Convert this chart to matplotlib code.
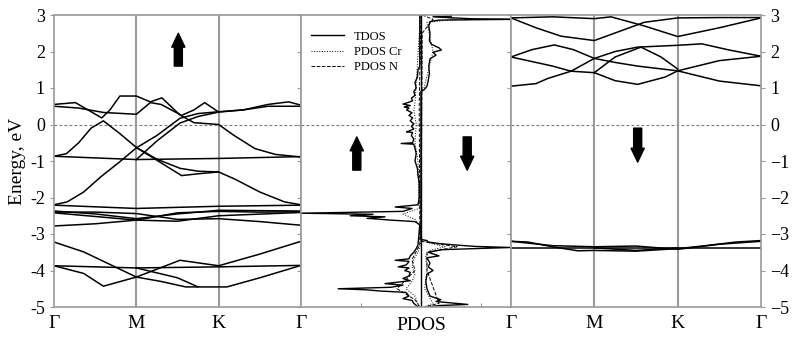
import numpy as np
import matplotlib.pyplot as plt

plt.rcParams['font.family'] = ['Liberation Serif', 'DejaVu Serif']

kpts = [0, 1, 2, 3]
klabels = ['Γ', 'M', 'K', 'Γ']

# spin up bands, (k, E)
up1 = [(0, 0.55), (0.26, 0.6), (0.58, 0.18), (0.68, 0.4), (0.8, 0.78), (1.0, 0.78), (1.17, 0.62),
       (1.31, 0.73), (1.53, 0.26), (1.7, 0.05), (2.0, 0.0), (2.18, -0.29), (2.44, -0.66), (2.69, -0.82), (3, -0.89)]
up2 = [(0, 0.5), (0.3, 0.45), (0.6, 0.33), (1.0, 0.28), (1.17, 0.6), (1.3, 0.55), (1.55, 0.25),
       (1.7, 0.4), (1.83, 0.6), (2.0, 0.34), (2.3, 0.4), (2.6, 0.5), (3, 0.5)]
up3 = [(0, -0.87), (0.15, -0.8), (0.3, -0.5), (0.45, -0.1), (0.6, 0.1), (0.8, -0.25), (1.0, -0.63),
       (1.25, -0.95), (1.53, -1.2), (1.75, -1.28), (2.0, -1.3), (2.2, -1.5), (2.5, -1.85), (2.8, -2.12), (3, -2.2)]
up4 = [(0, -0.87), (1, -0.96), (2, -0.93), (3, -0.88)]
up5 = [(0, -2.2), (0.16, -2.12), (0.36, -1.85), (0.57, -1.43), (0.8, -1.02), (1.0, -0.64), (1.25, -0.3),
       (1.53, 0.17), (1.75, 0.3), (2.0, 0.35), (2.3, 0.4), (2.6, 0.55), (2.85, 0.62), (3, 0.53)]
up6 = [(1.0, -0.96), (1.25, -0.45), (1.53, 0.04), (1.75, 0.22), (2.0, 0.34)]
up7 = [(1.0, -0.63), (1.3, -1.05), (1.55, -1.4), (1.75, -1.35), (2.0, -1.3)]
up8 = [(0, -2.21), (1, -2.3), (2, -2.24), (3, -2.21)]
up9 = [(0, -2.37), (0.5, -2.45), (1, -2.58), (1.5, -2.45), (2, -2.35), (3, -2.37)]
up10 = [(0, -2.4), (0.5, -2.4), (1, -2.44), (1.5, -2.6), (2, -2.58), (2.5, -2.66), (3, -2.76)]
up11 = [(0, -2.42), (1, -2.62), (1.5, -2.65), (2, -2.5), (3, -2.41)]
up12 = [(0, -2.78), (0.5, -2.72), (1, -2.62), (1.5, -2.42), (2, -2.38), (2.5, -2.4), (3, -2.39)]
up13 = [(0, -3.22), (0.36, -3.49), (0.76, -3.92), (1.0, -4.18), (1.3, -4.3), (1.6, -4.45), (2.1, -4.45),
        (2.5, -4.2), (3, -3.86)]
up14 = [(0, -3.87), (1, -3.93), (2, -3.9), (3, -3.86)]
up15 = [(0, -3.87), (0.36, -4.08), (0.6, -4.43), (1.0, -4.18), (1.53, -3.72), (2.0, -3.87),
        (2.5, -3.55), (3, -3.2)]
up16 = [(1.0, -3.93), (1.5, -4.2), (1.75, -4.45)]
spin_up = [up1, up2, up3, up4, up5, up6, up7, up8, up9, up10, up11, up12, up13, up14, up15, up16]

# spin down bands, right panel
dn1 = [(0, 1.05), (0.3, 1.12), (0.44, 1.26), (0.72, 1.46), (1.0, 1.81), (1.25, 2.0), (1.52, 2.12),
       (2.0, 2.17), (2.29, 2.21), (2.6, 2.05), (3, 1.87)]
dn2 = [(0, 1.85), (0.25, 2.05), (0.52, 2.18), (0.75, 2.05), (1.0, 1.81), (1.25, 1.7), (1.52, 1.6),
       (2.0, 1.47), (2.5, 1.19), (3, 1.06)]
dn3 = [(0, 1.85), (0.5, 1.6), (0.72, 1.46), (1.0, 1.42), (1.25, 1.2), (1.52, 1.1), (1.85, 1.3),
       (2.0, 1.47), (2.5, 1.75), (3, 1.87)]
dn4 = [(1.0, 1.42), (1.25, 1.85), (1.56, 2.12), (1.8, 1.85), (2.0, 1.52)]
dn5 = [(0, 2.92), (0.3, 2.65), (0.6, 2.42), (1.0, 2.3), (1.3, 2.55), (1.6, 2.8), (2.0, 2.92),
       (2.5, 2.93), (3, 2.93)]
dn6 = [(0, 2.92), (0.5, 2.95), (1.0, 2.9), (1.2, 2.95), (1.6, 2.7), (2.0, 2.41), (2.5, 2.65), (3, 2.92)]
dn7 = [(0, -3.2), (0.2, -3.22), (0.5, -3.35), (0.8, -3.46), (1.0, -3.45), (1.5, -3.47), (2.0, -3.4),
       (2.3, -3.33), (2.7, -3.22), (3, -3.18)]
dn8 = [(0, -3.38), (1, -3.38), (2, -3.38), (3, -3.38)]
dn9 = [(0, -3.2), (0.5, -3.32), (1.0, -3.35), (1.5, -3.33), (2.0, -3.42), (2.5, -3.28), (3, -3.2)]
dn10 = [(1.0, -3.38), (1.5, -3.45), (2.0, -3.38)]
spin_dn = [dn1, dn2, dn3, dn4, dn5, dn6, dn7, dn8, dn9, dn10]

# density of states (E, value), spin up drawn to the left
tdos_up = [(3.0, -0.02), (1.6, -0.02), (1.5, -0.05), (1.3, -0.06), (1.15, -0.1), (1.0, -0.08), (0.9, -0.12),
           (0.8, -0.1), (0.72, -0.16), (0.65, -0.14), (0.6, -0.22), (0.56, -0.3), (0.52, -0.18), (0.48, -0.28),
           (0.45, -0.2), (0.4, -0.24), (0.32, -0.15), (0.25, -0.2), (0.18, -0.14), (0.1, -0.18), (0.02, -0.12),
           (-0.05, -0.16), (-0.12, -0.12), (-0.18, -0.2), (-0.2, -0.24), (-0.22, -0.14), (-0.3, -0.16),
           (-0.4, -0.12), (-0.5, -0.14), (-0.52, -0.33), (-0.54, -0.12), (-0.65, -0.1), (-0.8, -0.08),
           (-1.0, -0.1), (-1.2, -0.06), (-1.4, -0.05), (-1.6, -0.03), (-2.0, -0.03), (-2.2, -0.05),
           (-2.26, -0.43), (-2.3, -0.15), (-2.38, -0.3), (-2.43, -2.0), (-2.46, -0.8), (-2.5, -1.18),
           (-2.53, -0.6), (-2.57, -0.9), (-2.62, -0.5), (-2.66, -0.1), (-2.75, -0.02), (-3.3, -0.05),
           (-3.4, -0.08), (-3.5, -0.12), (-3.6, -0.18), (-3.68, -0.2), (-3.72, -0.43), (-3.75, -0.2),
           (-3.8, -0.22), (-3.85, -0.25), (-3.9, -0.38), (-3.93, -0.2), (-4.0, -0.27), (-4.05, -0.18),
           (-4.15, -0.2), (-4.22, -0.3), (-4.28, -0.18), (-4.36, -0.6), (-4.4, -0.3), (-4.46, -0.5),
           (-4.5, -1.38), (-4.53, -0.9), (-4.56, -0.7), (-4.6, -0.25), (-4.7, -0.2), (-4.77, -0.3),
           (-4.82, -0.15), (-4.9, -0.12), (-5.0, -0.05)]
tdos_dn = [(3.0, 0.5), (2.97, 0.51), (2.95, 0.2), (2.9, 0.8), (2.88, 1.5), (2.86, 0.3), (2.82, 0.15),
           (2.7, 0.13), (2.5, 0.15), (2.3, 0.14), (2.2, 0.17), (2.1, 0.3), (2.04, 0.34), (1.98, 0.2),
           (1.9, 0.25), (1.8, 0.15), (1.6, 0.13), (1.4, 0.14), (1.2, 0.12), (1.05, 0.1), (0.95, 0.05),
           (0.9, 0.0), (-3.15, 0.0), (-3.18, 0.1), (-3.22, 0.12), (-3.26, 0.29),
           (-3.3, 0.57), (-3.34, 0.9), (-3.37, 1.5), (-3.4, 0.9), (-3.43, 0.35), (-3.5, 0.12), (-3.6, 0.3),
           (-3.65, 0.1), (-3.8, 0.15), (-3.9, 0.12), (-4.0, 0.2), (-4.1, 0.1), (-4.3, 0.08), (-4.5, 0.1),
           (-4.7, 0.15), (-4.8, 0.33), (-4.85, 0.25), (-4.93, 0.78), (-4.96, 0.3), (-5.0, 0.1)]
pcr_up = [(3.0, -0.01), (0.6, -0.1), (0.4, -0.12), (0.0, -0.08), (-0.5, -0.1), (-1.0, -0.05), (-2.3, -0.03),
          (-2.45, -0.3), (-2.6, -0.1), (-2.8, -0.01), (-3.3, -0.01), (-3.5, -0.05), (-3.7, -0.12),
          (-3.9, -0.15), (-4.1, -0.1), (-4.3, -0.15), (-4.5, -0.25), (-4.7, -0.1), (-5.0, -0.03)]
pcr_dn = [(3.0, 0.2), (2.88, 0.6), (2.8, 0.1), (2.0, 0.2), (1.0, 0.05), (0.9, 0.0), (-3.15, 0.0),
          (-3.25, 0.15), (-3.35, 0.4), (-3.45, 0.15), (-3.6, 0.08), (-4.0, 0.1), (-4.5, 0.06), (-4.9, 0.2),
          (-5.0, 0.05)]
pn_up = [(3, 0.0), (0.5, -0.03), (-2.4, -0.02), (-3.3, -0.02), (-3.7, -0.15), (-4.0, -0.1), (-4.5, -0.4),
         (-4.8, -0.1), (-5, -0.02)]
pn_dn = [(3, 0.02), (2.88, 0.2), (2.5, 0.02), (-3.2, 0.0), (-3.35, 0.6), (-3.5, 0.1), (-4.0, 0.1),
         (-4.9, 0.3), (-5, 0.05)]

grey = '#9a9a9a'

fig = plt.figure(figsize=(7.98, 3.49), dpi=100)
ax1 = fig.add_axes([54/798, 42/349, 247/798, 292/349])
ax2 = fig.add_axes([301/798, 42/349, 210/798, 292/349])
ax3 = fig.add_axes([511/798, 42/349, 250/798, 292/349])


def arrow(ax, x, y0, y1):
    ax.annotate('', xy=(x, y1), xytext=(x, y0),
                arrowprops=dict(arrowstyle='simple,head_length=1.0,head_width=0.95,tail_width=0.58',
                                fc='k', ec='k', mutation_scale=10, shrinkA=0, shrinkB=0))


for ax in (ax1, ax2, ax3):
    ax.set_ylim(-5, 3)
    ax.set_yticks(range(-5, 4))
    for s in ax.spines.values():
        s.set_color(grey)
        s.set_linewidth(1.2)
    ax.tick_params(axis='y', direction='out', length=3, color=grey, labelsize=13)
    ax.axhline(0, color='#777777', ls='--', lw=0.8, dashes=(2.5, 2))

for ax, bands in ((ax1, spin_up), (ax3, spin_dn)):
    ax.set_xlim(0, 3)
    for kk in (1, 2):
        ax.axvline(kk, color=grey, lw=1.5)
    for b in bands:
        k, e = zip(*b)
        ax.plot(k, e, color='k', lw=1.1)
    ax.set_xticks(kpts)
    ax.set_xticklabels(klabels)
    ax.tick_params(axis='x', length=0, labelsize=14, pad=6)

ax1.set_yticklabels([str(v) for v in range(-5, 4)])
ax3.yaxis.tick_right()
ax3.tick_params(axis='y', which='both', left=True, right=True, labelleft=False, labelright=True)
ax2.tick_params(axis='y', labelleft=False)

# DOS panel
ax2.set_xlim(-2, 1.5)
for data in (pcr_up, pcr_dn):
    e, d = zip(*data)
    ax2.plot(d, e, color='k', lw=0.7, ls=':')
for data in (pn_up, pn_dn):
    e, d = zip(*data)
    ax2.plot(d, e, color='k', lw=0.7, ls='--')
e, d = zip(*tdos_up)
ax2.plot(d, e, color='k', lw=1.0)
e, d = zip(*tdos_dn)
ax2.plot(d, e, color='k', lw=1.0)
ax2.axvline(0, color='k', lw=1.0)
ax2.set_xticks([-1, 1])
ax2.set_xticklabels([])
ax2.tick_params(axis='x', direction='in', length=3, color=grey)
ax2.text(0, -0.035, 'PDOS', transform=ax2.get_xaxis_transform(), ha='center', va='top', fontsize=14)
h1, = ax2.plot([], [], color='k', lw=1.0, label='TDOS')
h2, = ax2.plot([], [], color='k', lw=0.7, ls=':', label='PDOS Cr')
h3, = ax2.plot([], [], color='k', lw=0.7, ls='--', label='PDOS N')
ax2.legend(handles=[h1, h2, h3], loc='upper left', frameon=False, fontsize=9,
           handlelength=2.6, labelspacing=0.25, borderaxespad=0.4, bbox_to_anchor=(0.0, 0.98))

arrow(ax1, 1.51, 1.6, 2.5)
arrow(ax2, -1.07, -1.25, -0.34)
arrow(ax2, 0.77, -0.34, -1.25)
arrow(ax3, 1.52, -0.1, -1.03)

fig.text(18/798, 1 - 161/349, 'Energy, eV', rotation=90, ha='center', va='center', fontsize=14)

plt.savefig('out.png', dpi=100)
